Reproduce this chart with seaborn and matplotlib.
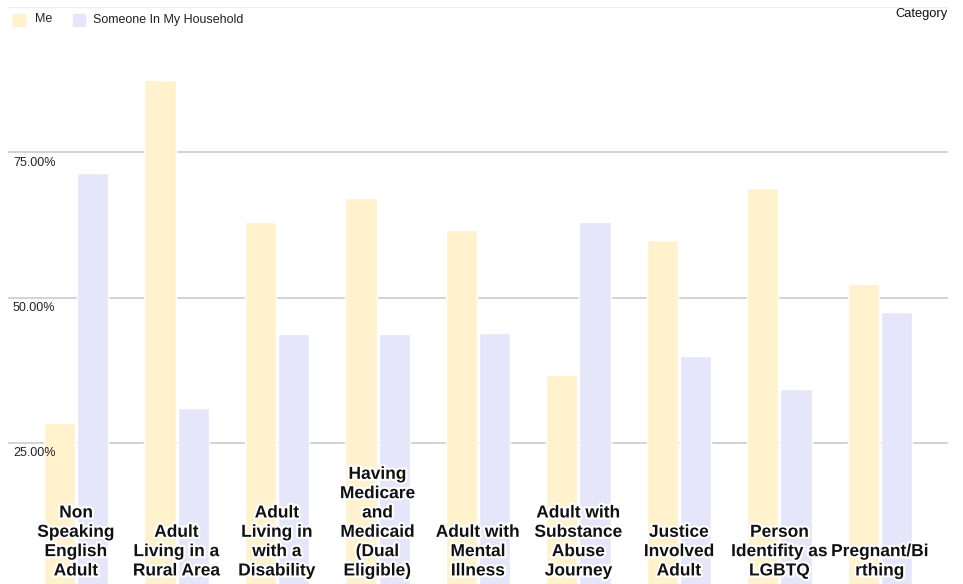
import matplotlib
matplotlib.use("Agg")
import matplotlib.pyplot as plt
import matplotlib.patheffects as pe
import seaborn as sns
import pandas as pd
from matplotlib.patches import Rectangle

categories = [
    "Non\nSpeaking\nEnglish\nAdult",
    "Adult\nLiving in a\nRural Area",
    "Adult\nLiving in\nwith a\nDisability",
    "Having\nMedicare\nand\nMedicaid\n(Dual\nEligible)",
    "Adult with\nMental\nIllness",
    "Adult with\nSubstance\nAbuse\nJourney",
    "Justice\nInvolved\nAdult",
    "Person\nIdentifity as\nLGBTQ",
    "Pregnant/Bi\nrthing",
]
series_names = ["Me", "Someone In My Household"]
me_values = [28.4, 87.5, 63.1, 67.1, 61.6, 36.7, 59.9, 68.8, 52.3]
household_values = [71.4, 31.0, 43.7, 43.7, 43.9, 63.1, 39.9, 34.3, 47.5]
y_ticks = [25, 50, 75]
y_tick_labels = ["25.00%", "50.00%", "75.00%"]
colors = ["#FFF2CC", "#E6E6FA"]

rows = []
for i, c in enumerate(categories):
    rows.append({"cat": c, "series": series_names[0], "value": me_values[i]})
    rows.append({"cat": c, "series": series_names[1], "value": household_values[i]})
df = pd.DataFrame(rows)

sns.set_theme(style="white")
plt.rcParams["font.family"] = ["Liberation Sans", "DejaVu Sans"]

W, H = 963, 584
fig = plt.figure(figsize=(W / 100, H / 100), dpi=100)
ax = fig.add_axes([8 / W, 0, (948 - 8) / W, (584 - 7) / H])

sns.barplot(data=df, x="cat", y="value", hue="series", palette=colors,
            width=0.66, gap=0.06, ax=ax, legend=False, saturation=1,
            order=categories, hue_order=series_names)

ax.set_xlim(-0.677, 8.677)
ax.set_ylim(0.77, 100)
for sp in ax.spines.values():
    sp.set_visible(False)
ax.set_xticks([])
ax.set_yticks([])
ax.set_xlabel("")
ax.set_ylabel("")
ax.set_axisbelow(True)
for t in y_ticks:
    ax.axhline(t, color="#cccccc", lw=1.2, zorder=0)
ax.axhline(100, color="#eeeeee", lw=1, zorder=0)

for t, lab in zip(y_ticks, y_tick_labels):
    ax.annotate(lab, xy=(0, t), xycoords=("axes fraction", "data"),
                xytext=(3.5, -3), textcoords="offset points",
                ha="left", va="top", fontsize=9, color="#222222")

for i, c in enumerate(categories):
    ax.annotate(c, xy=(i, 0), xycoords=("data", "axes fraction"),
                xytext=(0, 4), textcoords="offset points",
                ha="center", va="bottom", fontsize=12.5, fontweight="bold",
                color="#111111", linespacing=1.36,
                path_effects=[pe.withStroke(linewidth=3, foreground="white")])

# legend
fig.patches.append(Rectangle((13 / W, 1 - 26 / H), 12 / W, 12 / H,
                             transform=fig.transFigure, color=colors[0]))
fig.text(35 / W, 1 - 19.5 / H, series_names[0], fontsize=9, va="center", ha="left", color="#222222")
fig.patches.append(Rectangle((73 / W, 1 - 26 / H), 12 / W, 12 / H,
                             transform=fig.transFigure, color=colors[1]))
fig.text(93 / W, 1 - 19.5 / H, series_names[1], fontsize=9, va="center", ha="left", color="#222222")
fig.text(948 / W, 1 - 13.5 / H, "Category", fontsize=9.3, va="center", ha="right", color="#111111")

fig.savefig("out.png", dpi=100)
